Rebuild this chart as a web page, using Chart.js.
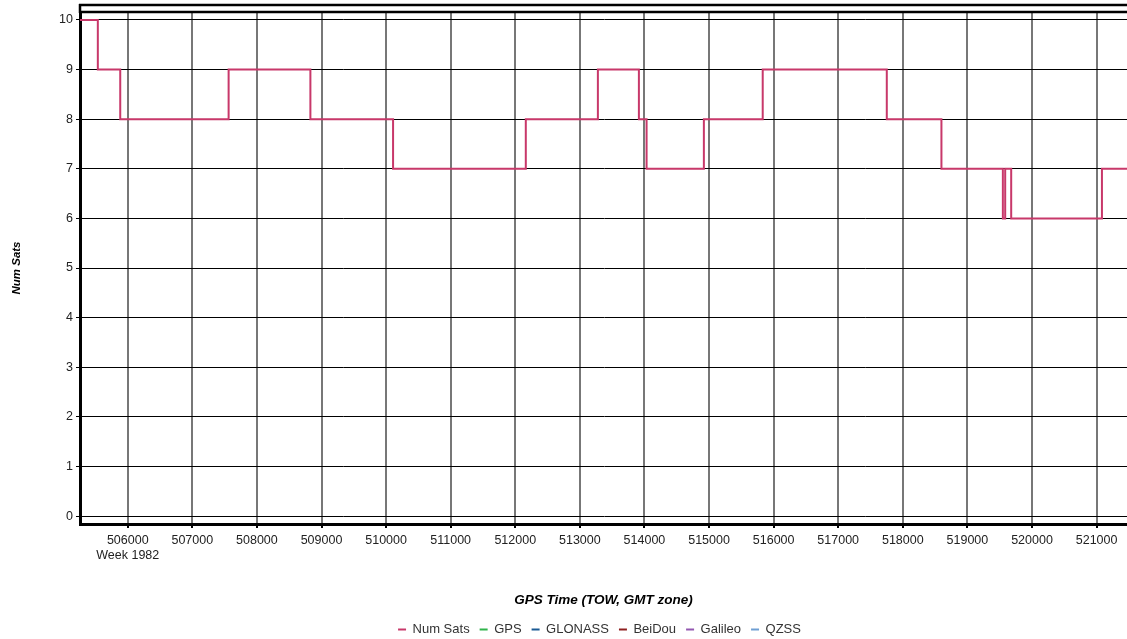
<!DOCTYPE html>
<html>
<head>
<meta charset="utf-8">
<title>Num Sats</title>
<script src="https://cdn.jsdelivr.net/npm/chart.js@4/dist/chart.umd.min.js"></script>
<style>
  html, body { margin: 0; padding: 0; background: #fff; overflow: hidden; }
  #wrap { width: 1127px; height: 639px; position: relative; }
</style>
</head>
<body>
<div id="wrap"><canvas id="c" width="1127" height="639"></canvas></div>
<script>
// GPS time of week (seconds) at which the satellite count changes
const towSeconds = [505261, 505537, 505884, 507562, 508828, 510108, 512163, 513279,
                    513914, 514033, 514920, 515831, 517752, 518598, 519549, 519585,
                    519678, 521083, 521471];
// number of satellites in use from each time onwards
const numSats    = [10, 9, 8, 9, 8, 7, 8, 9, 8, 7, 8, 9, 8, 7, 6, 7, 6, 7, 7];

const seriesNames  = ['Num Sats', 'GPS', 'GLONASS', 'BeiDou', 'Galileo', 'QZSS'];
const seriesColors = ['#c8386a', '#2fb34a', '#1b5a94', '#8e1f1f', '#9357b0', '#6f9fd3'];
const weekLabel = 'Week 1982';
const xTickValues = [506000, 507000, 508000, 509000, 510000, 511000, 512000, 513000,
                     514000, 515000, 516000, 517000, 518000, 519000, 520000, 521000];
const yTickValues = [0, 1, 2, 3, 4, 5, 6, 7, 8, 9, 10];
const xRange = [505261, 521471];
const yRange = [-0.16, 10.16];

const FONT = "'Liberation Sans', Arial, sans-serif";

const datasets = seriesNames.map((name, i) => ({
  label: name,
  data: i === 0 ? towSeconds.map((t, k) => ({ x: t, y: numSats[k] })) : [],
  borderColor: seriesColors[i],
  backgroundColor: seriesColors[i],
  borderWidth: 2,
  pointRadius: 0,
  stepped: true,
  fill: false
}));

// double frame line along the top of the plot and the left border above it
const framePlugin = {
  id: 'frame',
  afterLayout(chart) {
    // centre the legend under the plot area rather than the whole canvas
    const lg = chart.legend;
    const shift = ((chart.chartArea.left + chart.chartArea.right) / 2 - (lg.left + lg.right) / 2) * 2 - 8;
    lg.left += shift;
  },
  afterDraw(chart) {
    const { ctx, chartArea } = chart;
    const x0 = chartArea.left;
    const x1 = chart.width;
    ctx.save();
    ctx.strokeStyle = '#000';
    ctx.lineWidth = 2.5;
    ctx.beginPath();
    ctx.moveTo(x0 - 1, chartArea.top - 7);
    ctx.lineTo(x1, chartArea.top - 7);
    ctx.moveTo(x0, chartArea.top);
    ctx.lineTo(x1, chartArea.top);
    ctx.moveTo(x0, chartArea.top - 8);
    ctx.lineTo(x0, chartArea.top + 1);
    ctx.stroke();
    ctx.restore();
  }
};

const defaultLabels = Chart.defaults.plugins.legend.labels.generateLabels;

new Chart(document.getElementById('c'), {
  type: 'line',
  data: { datasets },
  plugins: [framePlugin],
  options: {
    responsive: false,
    animation: false,
    devicePixelRatio: 1,
    layout: { padding: { top: 12, left: 0, right: 0, bottom: -7 } },
    plugins: {
      tooltip: { enabled: false },
      legend: {
        position: 'bottom',
        labels: {
          boxWidth: 8,
          boxHeight: 2,
          padding: 10,
          color: '#333',
          font: { family: FONT, size: 13 },
          generateLabels: chart => defaultLabels(chart).map(l => ({ ...l, lineWidth: 0 }))
        }
      }
    },
    scales: {
      x: {
        type: 'linear',
        min: xRange[0],
        max: xRange[1],
        afterFit: s => { s.height = 89; s.paddingRight = 0; },
        afterBuildTicks: s => { s.ticks = xTickValues.map(v => ({ value: v })); },
        border: { color: '#000', width: 3 },
        grid: { color: '#777', lineWidth: 2, tickLength: 4, tickColor: '#000' },
        ticks: {
          autoSkip: false,
          maxRotation: 0,
          padding: 5,
          color: '#222',
          font: { family: FONT, size: 12.5 },
          callback: (v, i) => i === 0 ? [String(v), weekLabel] : String(v)
        },
        title: {
          display: true,
          text: 'GPS Time (TOW, GMT zone)',
          color: '#000',
          font: { family: FONT, size: 13.5, weight: 'bold', style: 'italic' },
          padding: { top: 4, bottom: 5 }
        }
      },
      y: {
        min: yRange[0],
        max: yRange[1],
        afterFit: s => { s.width = 80; },
        afterBuildTicks: s => { s.ticks = yTickValues.map(v => ({ value: v })); },
        border: { color: '#000', width: 3 },
        grid: { color: '#000', lineWidth: 1, tickLength: 4, tickColor: '#000' },
        ticks: {
          padding: 3,
          color: '#222',
          font: { family: FONT, size: 12.5 }
        },
        title: {
          display: true,
          text: 'Num Sats',
          color: '#000',
          font: { family: FONT, size: 11.5, weight: 'bold', style: 'italic' },
          padding: { top: 10, bottom: 0 }
        }
      }
    }
  }
});
</script>
</body>
</html>
